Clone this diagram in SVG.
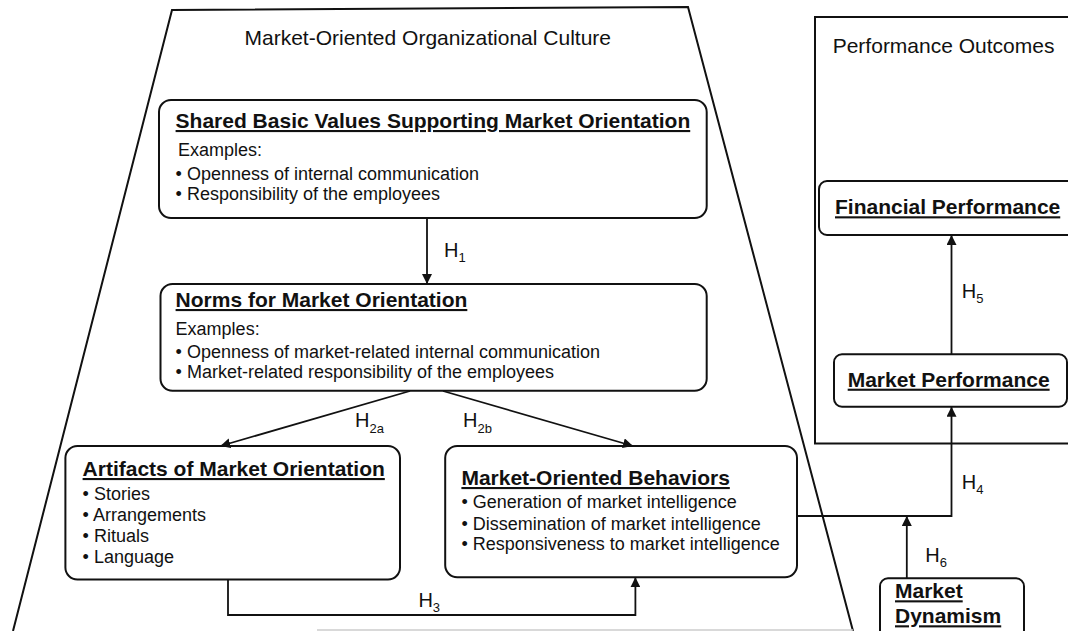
<svg xmlns="http://www.w3.org/2000/svg" width="1068" height="631" viewBox="0 0 1068 631">
<defs>
<style>
text{font-family:"Liberation Sans",Arial,Helvetica,sans-serif;fill:#111}
.t{font-size:21px}
.h{font-size:21px;font-weight:bold;text-decoration:underline}
.b{font-size:18px}
.lab{font-size:20px}
.sub{font-size:13px}
.box{fill:#fff;stroke:#111;stroke-width:2}
.frame{fill:none;stroke:#111;stroke-width:2}
.con{fill:none;stroke:#111;stroke-width:1.8}
</style>
<marker id="ah" viewBox="0 0 10 10" refX="10" refY="5" markerWidth="10" markerHeight="10" markerUnits="userSpaceOnUse" orient="auto">
<path d="M0,0 L10,5 L0,10 Z" fill="#111"/>
</marker>
</defs>
<rect width="1068" height="631" fill="#fff"/>

<g id="culture-frame">
<polyline class="frame" points="13,631 172,10 688,7 853,631"/>
<line x1="317" y1="630" x2="853" y2="630" stroke="#ccc" stroke-width="1.5"/>
<text class="t" x="244.5" y="45">Market-Oriented Organizational Culture</text>
</g>

<g id="outcomes-frame">
<polyline class="frame" points="1080,17 815,17 815,443.5 1080,443.5"/>
<text class="t" x="832.7" y="53.3">Performance Outcomes</text>
</g>

<g id="values">
<rect class="box" x="159" y="100" width="547.7" height="118" rx="12"/>
<text class="h" x="175.6" y="128">Shared Basic Values Supporting Market Orientation</text>
<text class="b" x="178" y="156">Examples:</text>
<text class="b" x="175.6" y="180">• Openness of internal communication</text>
<text class="b" x="175.6" y="200">• Responsibility of the employees</text>
</g>

<g id="norms">
<rect class="box" x="160.5" y="284" width="546.2" height="106.7" rx="12"/>
<text class="h" x="175.6" y="307">Norms for Market Orientation</text>
<text class="b" x="175.6" y="335">Examples:</text>
<text class="b" x="175.6" y="358.3">• Openness of market-related internal communication</text>
<text class="b" x="175.6" y="378.3">• Market-related responsibility of the employees</text>
</g>

<g id="artifacts">
<rect class="box" x="65.4" y="446" width="334.6" height="133.5" rx="12"/>
<text class="h" x="82.6" y="476">Artifacts of Market Orientation</text>
<text class="b" x="82.6" y="499.5">• Stories</text>
<text class="b" x="82.6" y="520.7">• Arrangements</text>
<text class="b" x="82.6" y="541.7">• Rituals</text>
<text class="b" x="82.6" y="563.3">• Language</text>
</g>

<g id="behaviors">
<rect class="box" x="445.2" y="446" width="351.8" height="131.3" rx="12"/>
<text class="h" x="461.4" y="485">Market-Oriented Behaviors</text>
<text class="b" x="461.4" y="508.3">• Generation of market intelligence</text>
<text class="b" x="461.4" y="530">• Dissemination of market intelligence</text>
<text class="b" x="461.4" y="550">• Responsiveness to market intelligence</text>
</g>

<g id="financial">
<rect class="box" x="819" y="181" width="260" height="54" rx="8"/>
<text class="h" x="835" y="214.3">Financial Performance</text>
</g>

<g id="market-performance">
<rect class="box" x="834" y="354.3" width="233" height="52.4" rx="8"/>
<text class="h" x="847.7" y="386.7">Market Performance</text>
</g>

<g id="dynamism">
<rect class="box" x="880" y="578.3" width="144" height="60" rx="8"/>
<text class="h" x="895" y="598.3">Market</text>
<text class="h" x="895" y="623.3">Dynamism</text>
</g>

<g id="connectors">
<line class="con" x1="427" y1="218" x2="427" y2="284" marker-end="url(#ah)"/>
<line class="con" x1="410" y1="391" x2="220.4" y2="446" marker-end="url(#ah)"/>
<line class="con" x1="443" y1="391" x2="633" y2="446" marker-end="url(#ah)"/>
<polyline class="con" points="228,579.5 228,615 635.4,615 635.4,577.3" marker-end="url(#ah)"/>
<polyline class="con" points="797,516 951.5,516 951.5,406.7" marker-end="url(#ah)"/>
<line class="con" x1="906.8" y1="578.3" x2="906.8" y2="516" marker-end="url(#ah)"/>
<line class="con" x1="951.5" y1="354.3" x2="951.5" y2="235" marker-end="url(#ah)"/>
<text class="lab" x="444" y="257">H<tspan class="sub" dy="5">1</tspan></text>
<text class="lab" x="355" y="427">H<tspan class="sub" dy="6">2a</tspan></text>
<text class="lab" x="463" y="427">H<tspan class="sub" dy="6">2b</tspan></text>
<text class="lab" x="418.4" y="606.7">H<tspan class="sub" dy="5">3</tspan></text>
<text class="lab" x="961.7" y="489.3">H<tspan class="sub" dy="5">4</tspan></text>
<text class="lab" x="961.7" y="298">H<tspan class="sub" dy="5">5</tspan></text>
<text class="lab" x="925.3" y="561.7">H<tspan class="sub" dy="5">6</tspan></text>
</g>
</svg>
